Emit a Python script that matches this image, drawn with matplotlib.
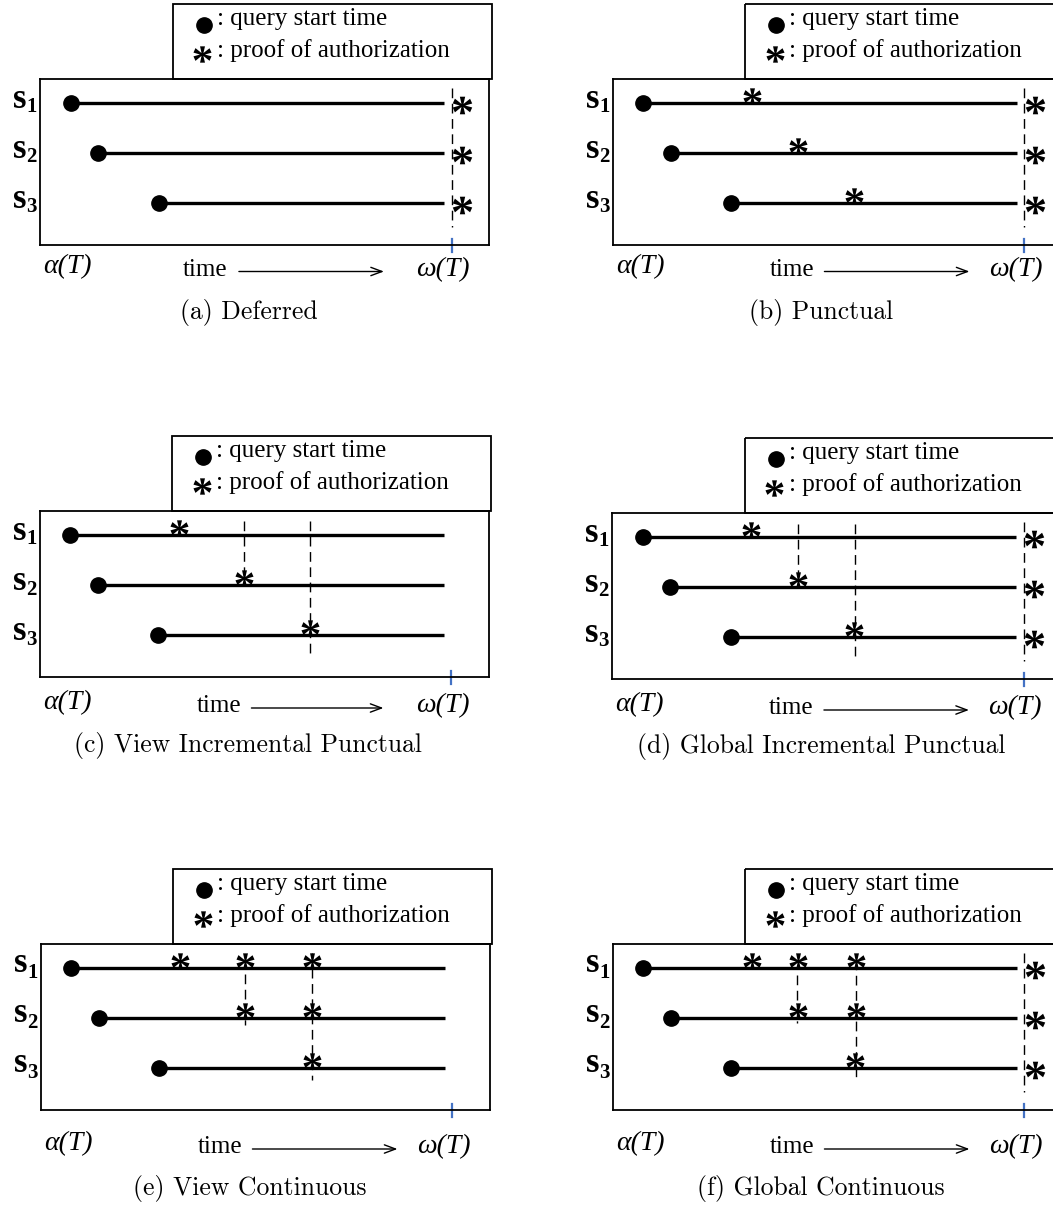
import matplotlib
matplotlib.use("Agg")
import matplotlib.pyplot as plt
from matplotlib.font_manager import FontProperties
from matplotlib.textpath import TextPath
from matplotlib.path import Path
from matplotlib.patches import Rectangle
from matplotlib.transforms import offset_copy

W, H = 1053, 1207

# ---- data (time axis: 0 = alpha(T) box edge, 100 = box width) ----
streams = [1, 2, 3]
stream_subscripts = ['1', '2', '3']
query_start = [6.9, 13.0, 26.5]
stream_end = 90.0
omega_t = 91.7
final_proof = 94.0

captions = ['(a) Deferred', '(b) Punctual',
            '(c) View Incremental Punctual', '(d) Global Incremental Punctual',
            '(e) View Continuous', '(f) Global Continuous']

# intermediate proofs of authorization: (stream, time)
proofs_a = []
proofs_b = [(1, 31.0), (2, 41.4), (3, 53.8)]
proofs_c = [(1, 31.0), (2, 45.5), (3, 60.2)]
proofs_d = [(1, 31.0), (2, 41.4), (3, 53.9)]
proofs_e = [(1, 31.0), (1, 45.5), (1, 60.5), (2, 45.5), (2, 60.5), (3, 60.4)]
proofs_f = [(1, 31.0), (1, 41.3), (1, 54.2), (2, 41.3), (2, 54.2), (3, 54.1)]
proofs = [proofs_a, proofs_b, proofs_c, proofs_d, proofs_e, proofs_f]

# dashed guides: (time, from, to) in stream units
guides = [[], [],
          [(45.6, 0.72, 1.92), (60.2, 0.72, 3.38)],
          [(41.4, 0.74, 1.90), (54.1, 0.74, 3.40)],
          [(45.5, 1.12, 2.14), (60.4, 0.70, 3.24)],
          [(41.2, 1.14, 2.10), (54.3, 0.84, 3.24)]]
final_check = [True, True, False, True, False, True]

legend_labels = [': query start time', ': proof of authorization']

# ---- layout (pixels) ----
box_left = [40, 612.5, 39.5, 612, 40.5, 612.5]
box_top = [79, 79, 511, 513, 944, 944]
box_w, box_h = 449, 166
label_y = [4.33, 4.33, 4.42, 4.42, 4.58, 4.58]
caption_y = [5.18, 5.18, 5.2, 5.2, 5.4, 5.4]
time_x = [31.8, 35.0, 35.0, 35.0, 35.0, 35.0]
arrow_x = [(44.3, 76.6), (47.2, 79.5), (47.2, 76.6), (47.2, 79.5), (47.2, 79.5), (47.2, 79.5)]

serif = 'Liberation Serif'

# star marker built from the serif asterisk glyph, centred on its own bbox
tp = TextPath((0, 0), '*', size=10, prop=FontProperties(family=serif, weight='bold'))
ext = tp.get_extents()
verts = tp.vertices.copy()
verts[:, 0] -= (ext.x0 + ext.x1) / 2
verts[:, 1] -= (ext.y0 + ext.y1) / 2
codes = tp.codes
verts[codes == Path.CLOSEPOLY] = 0.0
star = Path(verts, codes)

fig = plt.figure(figsize=(W / 100, H / 100), dpi=100)

for k in range(6):
    ax = fig.add_axes([box_left[k] / W, 1 - (box_top[k] + box_h) / H, box_w / W, box_h / H])
    ax.set_xlim(0, 100)
    ax.set_ylim(3.84, 0.52)
    ax.set_xticks([])
    ax.set_yticks([])
    for sp in ax.spines.values():
        sp.set_linewidth(1.3)
    raised = offset_copy(ax.transData, fig=fig, x=0, y=5, units='points')

    for y, x0, sub in zip(streams, query_start, stream_subscripts):
        ax.plot([x0, stream_end], [y, y], color='black', lw=2.4, solid_capstyle='butt', zorder=2)
        ax.plot(x0, y, 'o', color='black', ms=11, zorder=3)
        ax.text(-2.9, y + 0.09, 's', ha='right', va='baseline', fontsize=25,
                family=serif, weight='bold')
        ax.text(-3.0, y + 0.19, sub, ha='left', va='baseline', fontsize=15,
                family=serif, weight='bold')
        if final_check[k]:
            ax.plot(final_proof, y + 0.03, marker=star, color='black', ms=14, mew=0, zorder=3)

    for g, y0, y1 in guides[k]:
        ax.plot([g, g], [y0, y1], color='black', lw=1.0, ls=(0, (7, 4)), zorder=1)
    if final_check[k]:
        ax.plot([omega_t, omega_t], [0.70, 3.48], color='black', lw=1.0, ls=(0, (7, 4)), zorder=1)

    for s, t in proofs[k]:
        ax.plot(t, s, marker=star, color='black', ms=13, mew=0, zorder=4, transform=raised)

    # blue mark at omega(T)
    ax.plot([omega_t, omega_t], [3.72, 3.98], color='#4472c4', lw=1.6, clip_on=False)

    # legend box
    ax.add_patch(Rectangle((29.6, -0.98), 71, 1.5, fill=False, lw=1.3, ec='black', clip_on=False))
    ax.plot(36.5, -0.56, 'o', color='black', ms=11, clip_on=False)
    ax.plot(36.1, 0.02, marker=star, color='black', ms=13, mew=0, clip_on=False)
    ax.text(39.4, -0.68, legend_labels[0], fontsize=18, family=serif, va='center', ha='left')
    ax.text(39.4, -0.04, legend_labels[1], fontsize=18, family=serif, va='center', ha='left')

    # time axis annotations
    ty = label_y[k]
    ax.text(6.2, ty - 0.06, 'α(T)', fontsize=20, family=serif, style='italic',
            ha='center', va='center')
    ax.text(89.8, ty, 'ω(T)', fontsize=20, family=serif, style='italic',
            ha='center', va='center')
    ax.text(time_x[k], ty, 'time', fontsize=18, family=serif, ha='left', va='center')
    ax.annotate('', xy=(arrow_x[k][1], ty + 0.04), xytext=(arrow_x[k][0], ty + 0.04),
                arrowprops=dict(arrowstyle='->,head_length=0.8,head_width=0.3', lw=1.0,
                                color='black', shrinkA=0, shrinkB=0),
                annotation_clip=False)

    ax.text(46.5, caption_y[k], captions[k], fontsize=18.5, family='cmr10', ha='center', va='center')

fig.savefig('out.png', dpi=100)
